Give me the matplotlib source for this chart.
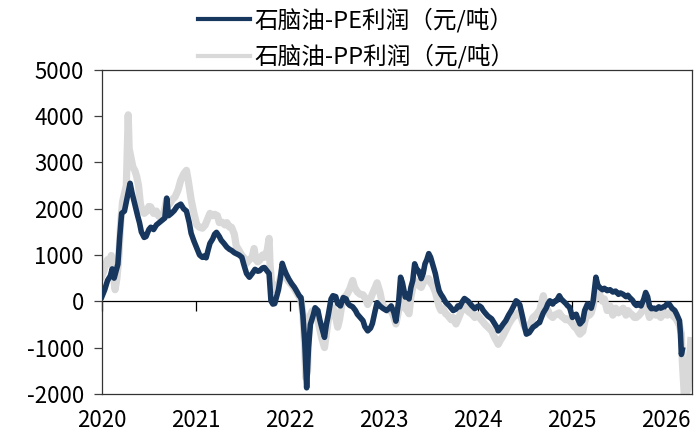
import matplotlib
matplotlib.use('Agg')
import matplotlib.pyplot as plt
import numpy as np

plt.rcParams['font.family'] = ['Noto Sans CJK SC', 'DejaVu Sans']

# 石脑油-PE利润 (decimal year, 元/吨)
pe_t = [2020.00, 2020.03, 2020.06, 2020.09, 2020.11, 2020.13, 2020.15, 2020.17, 2020.19, 2020.21,
        2020.24, 2020.27, 2020.30, 2020.32, 2020.35, 2020.38, 2020.40, 2020.42, 2020.45, 2020.47,
        2020.50, 2020.52, 2020.55, 2020.58, 2020.61, 2020.64, 2020.67, 2020.69, 2020.71, 2020.74,
        2020.77, 2020.80, 2020.84, 2020.87, 2020.90, 2020.93, 2020.95, 2020.98, 2021.01, 2021.04,
        2021.07, 2021.09, 2021.11, 2021.13, 2021.15, 2021.18, 2021.20, 2021.22, 2021.25, 2021.27,
        2021.30, 2021.33, 2021.36, 2021.38, 2021.41, 2021.43, 2021.46, 2021.49, 2021.51, 2021.54,
        2021.57, 2021.60, 2021.63, 2021.66, 2021.68, 2021.71, 2021.73, 2021.76, 2021.78, 2021.80,
        2021.82, 2021.84, 2021.86, 2021.88, 2021.90, 2021.92, 2021.94, 2021.96, 2021.99, 2022.02,
        2022.05, 2022.07, 2022.10, 2022.12, 2022.14, 2022.16, 2022.18, 2022.20, 2022.22, 2022.25,
        2022.27, 2022.30, 2022.32, 2022.34, 2022.37, 2022.39, 2022.41, 2022.44, 2022.46, 2022.49,
        2022.51, 2022.54, 2022.57, 2022.60, 2022.62, 2022.64, 2022.67, 2022.70, 2022.72, 2022.75,
        2022.78, 2022.80, 2022.83, 2022.86, 2022.88, 2022.91, 2022.93, 2022.96, 2022.99, 2023.03,
        2023.06, 2023.08, 2023.11, 2023.13, 2023.16, 2023.18, 2023.20, 2023.23, 2023.25, 2023.27,
        2023.29, 2023.31, 2023.33, 2023.35, 2023.37, 2023.40, 2023.42, 2023.44, 2023.46, 2023.48,
        2023.50, 2023.52, 2023.55, 2023.57, 2023.59, 2023.61, 2023.63, 2023.66, 2023.68, 2023.70,
        2023.72, 2023.74, 2023.77, 2023.79, 2023.81, 2023.84, 2023.86, 2023.88, 2023.90, 2023.92,
        2023.94, 2023.97, 2024.00, 2024.02, 2024.04, 2024.06, 2024.08, 2024.11, 2024.13, 2024.15,
        2024.18, 2024.21, 2024.22, 2024.25, 2024.27, 2024.30, 2024.33, 2024.36, 2024.39, 2024.41,
        2024.43, 2024.45, 2024.48, 2024.50, 2024.52, 2024.55, 2024.57, 2024.59, 2024.62, 2024.64,
        2024.66, 2024.68, 2024.70, 2024.73, 2024.75, 2024.77, 2024.80, 2024.82, 2024.84, 2024.87,
        2024.89, 2024.91, 2024.94, 2024.96, 2024.98, 2025.01, 2025.03, 2025.05, 2025.07, 2025.09,
        2025.12, 2025.14, 2025.17, 2025.19, 2025.21, 2025.23, 2025.26, 2025.28, 2025.30, 2025.33,
        2025.35, 2025.38, 2025.41, 2025.44, 2025.47, 2025.50, 2025.52, 2025.55, 2025.58, 2025.60,
        2025.62, 2025.65, 2025.67, 2025.69, 2025.72, 2025.74, 2025.77, 2025.79, 2025.81, 2025.83,
        2025.85, 2025.88, 2025.90, 2025.93, 2025.95, 2025.97, 2026.00, 2026.02, 2026.04, 2026.07,
        2026.10, 2026.12, 2026.15, 2026.16, 2026.17, 2026.18]
pe_v = [100, 250, 450, 550, 700, 500, 650, 800, 1400, 1900,
        1950, 2250, 2550, 2350, 2100, 1850, 1700, 1500, 1380, 1400,
        1550, 1600, 1550, 1650, 1700, 1750, 1800, 2230, 1850, 1900,
        1960, 2050, 2100, 2000, 1950, 1700, 1470, 1300, 1150, 1000,
        950, 980, 940, 1100, 1250, 1350, 1450, 1490, 1400, 1320,
        1250, 1170, 1120, 1100, 1050, 1030, 1000, 950, 800, 600,
        520, 600, 690, 650, 660, 720, 730, 650, 600, 10,
        -60, -50, 100, 250, 500, 820, 700, 600, 480, 380,
        300, 230, 120, 80, -300, -900, -1870, -1000, -500, -300,
        -140, -200, -400, -560, -780, -500, -300, 50, 120, 100,
        -50, -100, 80, 50, -50, -90, -120, -200, -280, -350,
        -420, -550, -640, -580, -480, -200, -30, -100, -150, -200,
        -150, -100, -250, -430, 0, 520, 400, 90, 150, 50,
        300, 450, 810, 700, 660, 490, 600, 810, 900, 1030,
        950, 810, 600, 400, 230, 150, 90, -20, -60, -100,
        -150, -200, -170, -100, -120, 0, 60, 30, 0, -50,
        -100, -160, -110, -100, -130, -200, -250, -320, -350, -380,
        -480, -580, -640, -560, -500, -420, -300, -200, -80, 10,
        -20, -80, -350, -550, -710, -680, -620, -560, -520, -480,
        -460, -350, -250, -150, -50, 10, -60, 0, 10, 120,
        50, 10, -50, -100, -130, -350, -300, -280, -400, -490,
        -420, -200, -60, -100, -150, 0, 520, 350, 300, 250,
        280, 230, 250, 200, 220, 150, 180, 150, 100, 130,
        80, 20, -50, -90, -60, -100, 50, 190, 100, -100,
        -160, -150, -170, -120, -150, -130, -100, -50, -60, -150,
        -200, -280, -420, -700, -1150, -1050]

# 石脑油-PP利润 (decimal year, 元/吨)
pp_t = [2020.00, 2020.02, 2020.04, 2020.06, 2020.08, 2020.10, 2020.12, 2020.14, 2020.16, 2020.18,
        2020.20, 2020.22, 2020.24, 2020.26, 2020.28, 2020.29, 2020.31, 2020.33, 2020.35, 2020.37,
        2020.39, 2020.41, 2020.43, 2020.45, 2020.48, 2020.50, 2020.52, 2020.55, 2020.58, 2020.60,
        2020.63, 2020.66, 2020.69, 2020.72, 2020.75, 2020.78, 2020.81, 2020.84, 2020.87, 2020.90,
        2020.92, 2020.95, 2020.98, 2021.01, 2021.04, 2021.07, 2021.10, 2021.13, 2021.15, 2021.18,
        2021.20, 2021.23, 2021.25, 2021.28, 2021.31, 2021.33, 2021.36, 2021.38, 2021.41, 2021.43,
        2021.46, 2021.49, 2021.51, 2021.54, 2021.57, 2021.60, 2021.62, 2021.64, 2021.66, 2021.68,
        2021.71, 2021.73, 2021.76, 2021.78, 2021.79, 2021.81, 2021.84, 2021.86, 2021.88, 2021.90,
        2021.92, 2021.95, 2021.98, 2022.01, 2022.04, 2022.07, 2022.10, 2022.12, 2022.14, 2022.16,
        2022.17, 2022.19, 2022.20, 2022.22, 2022.24, 2022.27, 2022.30, 2022.32, 2022.34, 2022.37,
        2022.39, 2022.41, 2022.44, 2022.46, 2022.49, 2022.51, 2022.53, 2022.56, 2022.58, 2022.61,
        2022.64, 2022.67, 2022.69, 2022.72, 2022.75, 2022.78, 2022.81, 2022.83, 2022.86, 2022.88,
        2022.91, 2022.93, 2022.96, 2022.99, 2023.03, 2023.06, 2023.08, 2023.11, 2023.13, 2023.16,
        2023.18, 2023.20, 2023.23, 2023.25, 2023.27, 2023.29, 2023.31, 2023.33, 2023.35, 2023.37,
        2023.40, 2023.42, 2023.44, 2023.46, 2023.48, 2023.50, 2023.52, 2023.55, 2023.57, 2023.59,
        2023.61, 2023.63, 2023.66, 2023.68, 2023.70, 2023.72, 2023.74, 2023.77, 2023.79, 2023.81,
        2023.84, 2023.86, 2023.88, 2023.90, 2023.92, 2023.94, 2023.97, 2024.00, 2024.02, 2024.04,
        2024.06, 2024.08, 2024.11, 2024.13, 2024.15, 2024.18, 2024.20, 2024.22, 2024.24, 2024.27,
        2024.30, 2024.33, 2024.36, 2024.39, 2024.41, 2024.43, 2024.45, 2024.48, 2024.50, 2024.52,
        2024.55, 2024.57, 2024.59, 2024.62, 2024.64, 2024.66, 2024.68, 2024.70, 2024.72, 2024.75,
        2024.77, 2024.80, 2024.82, 2024.84, 2024.87, 2024.89, 2024.91, 2024.94, 2024.96, 2024.98,
        2025.01, 2025.03, 2025.05, 2025.07, 2025.09, 2025.12, 2025.14, 2025.17, 2025.19, 2025.21,
        2025.23, 2025.26, 2025.28, 2025.30, 2025.33, 2025.35, 2025.38, 2025.41, 2025.44, 2025.47,
        2025.50, 2025.52, 2025.55, 2025.58, 2025.60, 2025.62, 2025.65, 2025.67, 2025.69, 2025.72,
        2025.74, 2025.77, 2025.79, 2025.81, 2025.83, 2025.85, 2025.88, 2025.90, 2025.93, 2025.95,
        2025.97, 2026.00, 2026.02, 2026.04, 2026.07, 2026.10, 2026.12, 2026.15, 2026.17, 2026.18,
        2026.20, 2026.22, 2026.24, 2026.25, 2026.27]
pp_v = [550, 650, 800, 900, 850, 990, 600, 250, 500, 950,
        1700, 2150, 2330, 2500, 4030, 3300, 3100, 2900, 2830, 2700,
        2500, 2100, 1950, 1900, 1950, 2050, 2040, 1900, 1950, 1850,
        1800, 1900, 2200, 2100, 2200, 2260, 2400, 2620, 2750, 2830,
        2600, 2200, 1900, 1650, 1600, 1580, 1650, 1800, 1900, 1850,
        1880, 1850, 1700, 1710, 1650, 1700, 1600, 1600, 1450, 1200,
        1100, 990, 950, 820, 900, 950, 1140, 900, 850, 890,
        1000, 950, 1100, 1360, 800, 300, 250, 350, 360, 500,
        650, 550, 450, 380, 300, 200, 100, 20, -270, -1000,
        -1650, -1500, -570, -300, -210, -250, -420, -600, -790, -1000,
        -700, -400, -200, -140, -350, -560, -400, 0, 80, 150,
        270, 450, 300, 200, 150, 140, 50, -70, 50, 160,
        300, 400, 200, -100, -150, -200, -200, -350, -490, -200,
        90, 270, -150, -200, -270, 100, 300, 450, 400, 350,
        300, 400, 450, 480, 490, 400, 350, 200, 50, -110,
        -200, -150, -270, -300, -350, -400, -350, -490, -400, -300,
        -150, -100, -150, -220, -250, -280, -350, -300, -350, -400,
        -450, -500, -560, -600, -640, -780, -850, -930, -850, -750,
        -630, -500, -400, -320, -300, -250, -250, -450, -550, -610,
        -550, -450, -350, -300, -250, -200, -50, 120, -100, -200,
        -300, -350, -300, -280, -250, -320, -350, -400, -380, -420,
        -490, -550, -580, -650, -710, -650, -450, -250, -300, -250,
        -100, 230, 100, 150, 0, 50, -200, -100, -300, -150,
        -250, -200, -150, -300, -200, -250, -300, -350, -350, -300,
        -250, -150, -100, -200, -350, -300, -250, -300, -280, -350,
        -300, -250, -300, -250, -300, -350, -400, -530, -700, -1300,
        -2000, -2000, -1900, -1400, -850]

y_ticks = [-2000, -1000, 0, 1000, 2000, 3000, 4000, 5000]
x_ticks = [2020, 2021, 2022, 2023, 2024, 2025, 2026]
labels = ['石脑油-PE利润（元/吨）', '石脑油-PP利润（元/吨）']

fig = plt.figure(figsize=(6.98, 4.4), dpi=100)
ax = fig.add_axes([0.146, 0.105, 0.845, 0.736])

ax.axhline(0, color='black', lw=0.9, zorder=1)
ax.plot(pp_t, pp_v, color='#d9d9d9', lw=5.2, label=labels[1], zorder=2)
ax.plot(pe_t, pe_v, color='#17375e', lw=4.0, label=labels[0], zorder=3)

ax.set_xlim(2020, 2026.28)
ax.set_ylim(-2000, 5000)
ax.set_yticks(y_ticks)
ax.set_yticklabels([str(v) for v in y_ticks])
ax.set_xticks(x_ticks)
ax.set_xticklabels([str(v) for v in x_ticks])

ax.tick_params(axis='y', direction='out', length=6, width=0.9, color='#404040',
               labelsize=16, pad=7, labelcolor='black')
ax.tick_params(axis='x', length=0, labelsize=16, pad=11, labelcolor='black')
for s in ax.spines.values():
    s.set_linewidth(0.9)
    s.set_color('#333333')

# x ticks sit on the zero line
zero_pos = (0 - y_ticks[0]) / (y_ticks[-1] - y_ticks[0])
sec = ax.secondary_xaxis(zero_pos)
sec.set_xticks(x_ticks)
sec.tick_params(axis='x', direction='out', length=7, width=0.9, color='black',
                labelbottom=False, labeltop=False)
sec.spines['bottom'].set_visible(False)
sec.spines['top'].set_visible(False)

h, l = ax.get_legend_handles_labels()
leg = fig.legend(h[::-1], l[::-1], loc='upper center', bbox_to_anchor=(0.51, 1.015),
                 ncol=1, frameon=False, fontsize=17, handlelength=2.2,
                 handletextpad=0.2, labelspacing=0.5, borderaxespad=0.2)
for line in leg.get_lines():
    line.set_linewidth(3)

fig.savefig('out.png', dpi=100)
